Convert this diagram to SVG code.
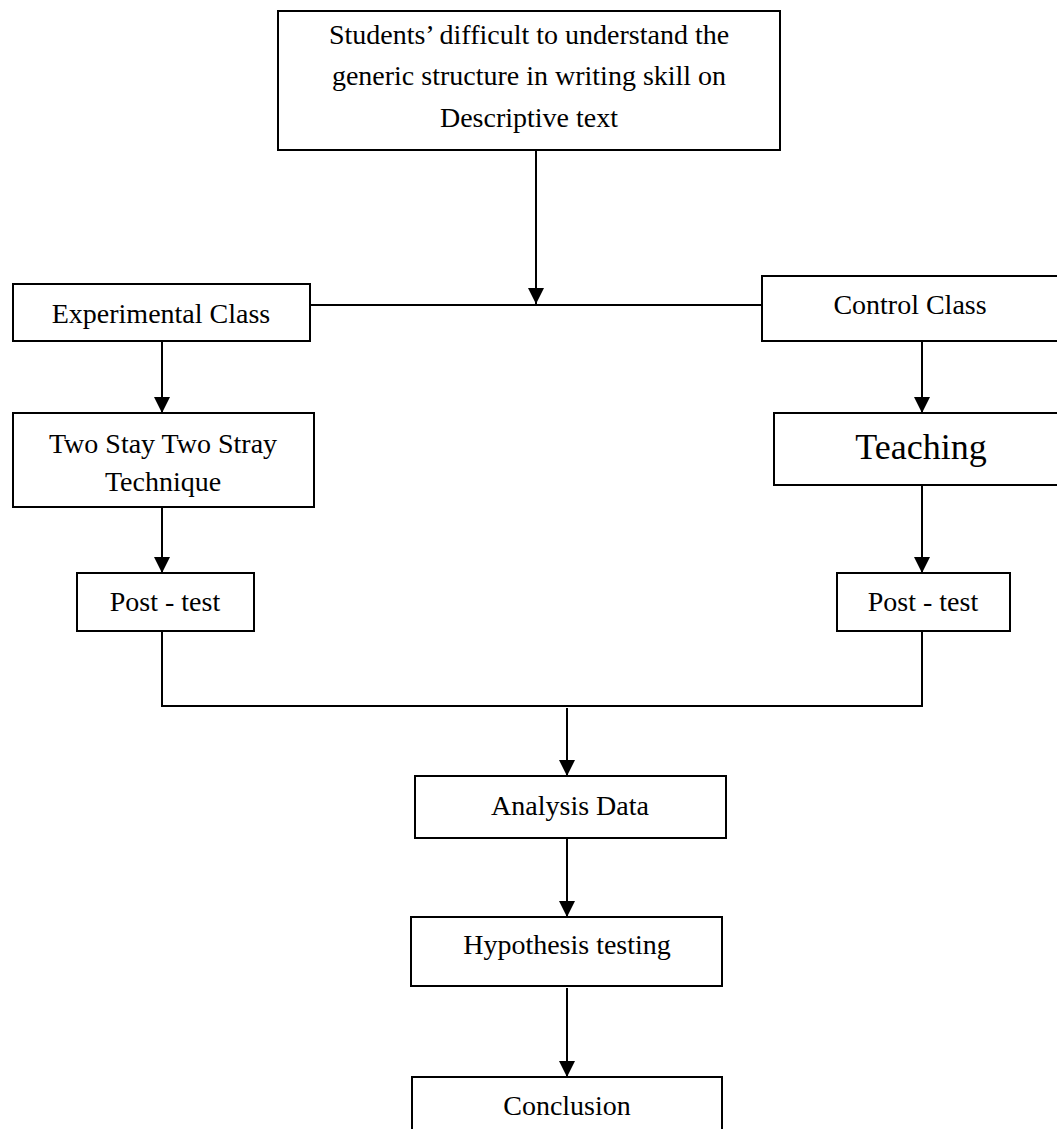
<svg xmlns="http://www.w3.org/2000/svg" width="1057" height="1129" viewBox="0 0 1057 1129">
<style>
.box{fill:#fff;stroke:#000;stroke-width:2}
.t{font-family:"Liberation Serif","Times New Roman",serif;font-size:28px;fill:#000;text-anchor:middle}
.big{font-size:36px}
.c{stroke:#000;stroke-width:2;fill:none}
.a{marker-end:url(#ah)}
</style>
<defs>
<marker id="ah" markerUnits="userSpaceOnUse" markerWidth="16" markerHeight="16" viewBox="0 0 16 16" refX="16" refY="8" orient="auto">
<path d="M0,0 L16,8 L0,16 Z" fill="#000"/>
</marker>
</defs>
<rect width="1057" height="1129" fill="#fff"/>
<g id="connectors">
<line class="c a" x1="536" y1="150" x2="536" y2="304"/>
<line class="c" x1="310" y1="305" x2="762" y2="305"/>
<line class="c a" x1="162" y1="341" x2="162" y2="413"/>
<line class="c a" x1="162" y1="507" x2="162" y2="573"/>
<line class="c a" x1="922" y1="341" x2="922" y2="413"/>
<line class="c a" x1="922" y1="485" x2="922" y2="573"/>
<polyline class="c" points="162,631 162,706 922,706 922,631"/>
<line class="c a" x1="567" y1="708" x2="567" y2="776"/>
<line class="c a" x1="567" y1="838" x2="567" y2="917"/>
<line class="c a" x1="567" y1="988" x2="567" y2="1077"/>
</g>
<g id="problem">
<rect class="box" x="278" y="11" width="502" height="139"/>
<text class="t" x="529" y="44">Students’ difficult to understand the</text>
<text class="t" x="529" y="85">generic structure in writing skill on</text>
<text class="t" x="529" y="127">Descriptive text</text>
</g>
<g id="experimental">
<rect class="box" x="13" y="284" width="297" height="57"/>
<text class="t" x="161" y="323">Experimental Class</text>
</g>
<g id="control">
<rect class="box" x="762" y="276" width="300" height="65"/>
<text class="t" x="910" y="314">Control Class</text>
</g>
<g id="tsts">
<rect class="box" x="13" y="413" width="301" height="94"/>
<text class="t" x="163" y="453">Two Stay Two Stray</text>
<text class="t" x="163" y="491">Technique</text>
</g>
<g id="teaching">
<rect class="box" x="774" y="413" width="290" height="72"/>
<text class="t big" x="921" y="459">Teaching</text>
</g>
<g id="posttest-exp">
<rect class="box" x="77" y="573" width="177" height="58"/>
<text class="t" x="165" y="611">Post - test</text>
</g>
<g id="posttest-ctrl">
<rect class="box" x="837" y="573" width="173" height="58"/>
<text class="t" x="923" y="611">Post - test</text>
</g>
<g id="analysis">
<rect class="box" x="415" y="776" width="311" height="62"/>
<text class="t" x="570" y="815">Analysis Data</text>
</g>
<g id="hypothesis">
<rect class="box" x="411" y="917" width="311" height="69"/>
<text class="t" x="567" y="954">Hypothesis testing</text>
</g>
<g id="conclusion">
<rect class="box" x="412" y="1077" width="310" height="60"/>
<text class="t" x="567" y="1115">Conclusion</text>
</g>
</svg>
